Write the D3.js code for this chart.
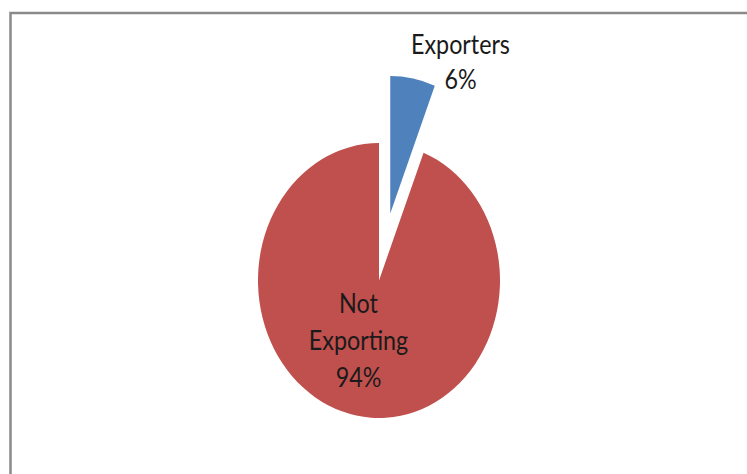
<!DOCTYPE html>
<html>
<head>
<meta charset="utf-8">
<script src="https://cdn.jsdelivr.net/npm/d3@7"></script>
<style>
  html, body { margin: 0; padding: 0; background: #ffffff; }
  svg { display: block; }
</style>
</head>
<body>
<svg id="chart" width="747" height="474"></svg>
<script>
// Share of firms by export status
const categories = ["Exporters", "Not Exporting"];
const shares = [6, 94];
const labelLines = [["Exporters", "6%"], ["Not", "Exporting", "94%"]];
const colors = ["#4F81BD", "#C0504D"];

const width = 747, height = 474;
const cx = 379, cy = 280.5;
const radius = 121;
const yStretch = 1.136;     // plot area is drawn taller than wide
const explode = 60;         // pull-out distance of the first slice

const svg = d3.select("#chart");

// Chart frame
svg.append("rect")
  .attr("x", 10.5).attr("y", 13)
  .attr("width", width + 20).attr("height", height + 20)
  .attr("fill", "#ffffff")
  .attr("stroke", "#8a8a8a")
  .attr("stroke-width", 2.5);

const g = svg.append("g")
  .attr("transform", `translate(${cx},${cy}) scale(1,${yStretch})`);

const pie = d3.pie().sort(null).value(d => d)(shares);
const arc = d3.arc().innerRadius(0).outerRadius(radius);

const offset = (d, i) => {
  if (i !== 0) return [0, 0];
  const mid = (d.startAngle + d.endAngle) / 2;
  return [Math.sin(mid) * explode, -Math.cos(mid) * explode];
};

g.selectAll("path.slice")
  .data(pie)
  .join("path")
  .attr("class", "slice")
  .attr("d", arc)
  .attr("fill", (d, i) => colors[i])
  .attr("transform", (d, i) => {
    const [dx, dy] = offset(d, i);
    return `translate(${dx},${dy})`;
  });

// Data labels: anchor of first baseline relative to the pie centre
const labelAnchors = [[81.5, -199.4, 30.8], [-20.5, 28.6, 32.6]];
const fontFamily = "Lato, 'Open Sans', sans-serif";

const labels = g.selectAll("text.label")
  .data(pie)
  .join("text")
  .attr("class", "label")
  .attr("text-anchor", "middle")
  .attr("font-family", fontFamily)
  .attr("fill", "#1a1a1a");

labels.each(function (d, i) {
  const t = d3.select(this);
  const [ax, ay, step] = labelAnchors[i];
  labelLines[i].forEach((line, k) => {
    t.append("tspan")
      .attr("x", ax)
      .attr("y", ay + k * step)
      .text(line);
  });
});

// Size the label font so that the widest word spans about 99px
const probe = svg.append("text")
  .attr("font-family", fontFamily)
  .attr("font-size", 20)
  .text(categories[0]);
const w = probe.node().getComputedTextLength();
probe.remove();
const fontSize = 20 * 99 / w;
labels.attr("font-size", fontSize);
</script>
</body>
</html>
